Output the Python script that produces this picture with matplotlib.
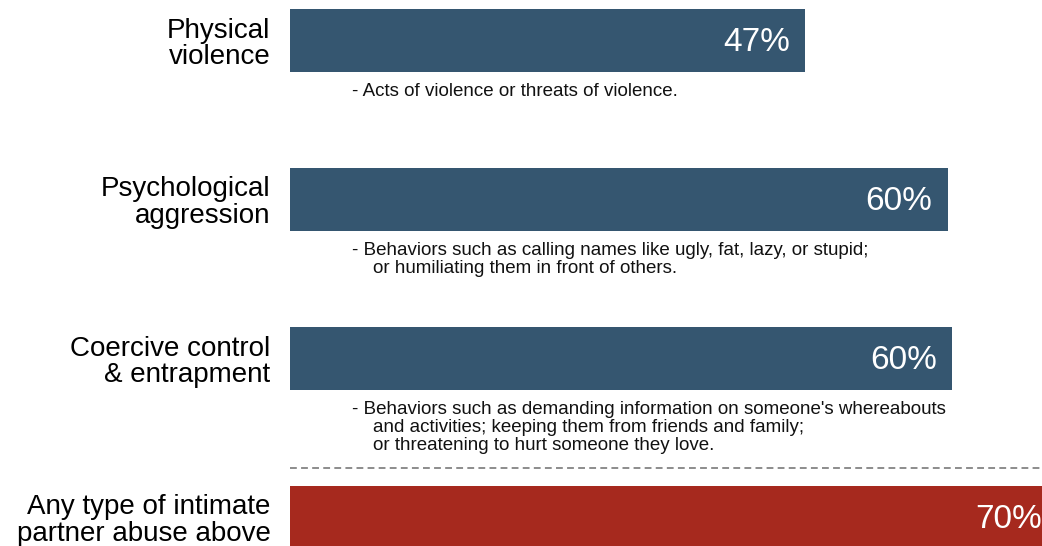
import matplotlib
matplotlib.use("Agg")
import matplotlib.pyplot as plt

plt.rcParams['font.family'] = ['Liberation Sans', 'DejaVu Sans']

categories = ["Physical\nviolence",
              "Psychological\naggression",
              "Coercive control\n& entrapment",
              "Any type of intimate\npartner abuse above"]
values = [47.0, 60.0, 60.4, 70.0]
descriptions = [
    "- Acts of violence or threats of violence.",
    "- Behaviors such as calling names like ugly, fat, lazy, or stupid;\n"
    "    or humiliating them in front of others.",
    "- Behaviors such as demanding information on someone's whereabouts\n"
    "    and activities; keeping them from friends and family;\n"
    "    or threatening to hurt someone they love.",
    "",
]
colors = ["#355670", "#355670", "#355670", "#a6291e"]

W, H, DPI = 1042, 546, 100
fig = plt.figure(figsize=(W / DPI, H / DPI), dpi=DPI)
left_px = 290
ax = fig.add_axes([left_px / W, 0, 1 - left_px / W, 1])

px_per_unit = 10.96
ax.set_xlim(0, (W - left_px) / px_per_unit)
row_px = 159
first_center_px = 40.5
ax.set_ylim((H - first_center_px) / row_px, -first_center_px / row_px)

ypos = list(range(len(values)))
bar_h = 0.4
ax.barh(ypos, values, height=bar_h, color=colors, zorder=2)

for y, v, d in zip(ypos, values, descriptions):
    ax.annotate(f"{v:.0f}%", xy=(v, y), xytext=(-11, -1.5),
                textcoords="offset points", ha="right", va="center",
                color="white", fontsize=24, annotation_clip=False)
    if d:
        ax.annotate(d, xy=(0, y + bar_h / 2), xytext=(45, -8),
                    textcoords="offset points", ha="left", va="top",
                    color="#111111", fontsize=13.5, linespacing=1.05)

# dashed separator above the summary bar
ax.axhline(2.69, color="#8c8c8c", lw=1.4, ls=(0, (3.5, 2.2)), zorder=1)

ax.set_yticks(ypos)
ax.set_yticklabels(categories, fontsize=20)
for t in ax.get_yticklabels():
    t.set_multialignment("right")
    t.set_linespacing(1.03)
ax.tick_params(axis="y", length=0, pad=14)
ax.set_xticks([])
for s in ax.spines.values():
    s.set_visible(False)
ax.patch.set_alpha(0)

fig.savefig("out.png", dpi=DPI)
